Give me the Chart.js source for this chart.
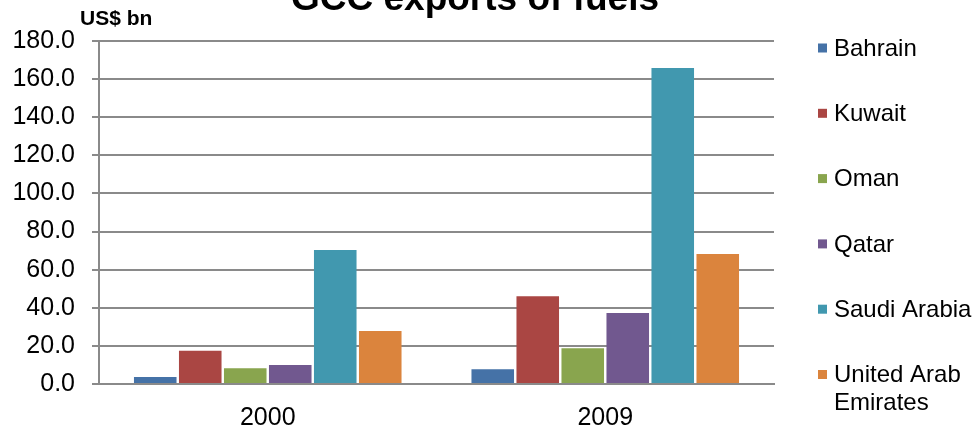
<!DOCTYPE html>
<html>
<head>
<meta charset="utf-8">
<script src="https://cdn.jsdelivr.net/npm/chart.js@4"></script>
<style>
  html, body { margin: 0; padding: 0; background: #fff; }
  #wrap { width: 975px; height: 429px; }
</style>
</head>
<body>
<div id="wrap"><canvas id="chart" width="975" height="429"></canvas></div>
<script>
// values, US$ bn
const years = ['2000', '2009'];
const countries = ['Bahrain', 'Kuwait', 'Oman', 'Qatar', 'Saudi Arabia', ['United Arab', 'Emirates']];
const bahrain = [3.7, 7.7];
const kuwait = [17.5, 46.0];
const oman = [8.2, 18.8];
const qatar = [10.0, 37.2];
const saudiArabia = [70.3, 165.8];
const uae = [27.8, 68.2];
const colors = ['#4572A7', '#AA4643', '#89A54E', '#71588F', '#4198AF', '#DB843D'];
const yTicks = [0, 20, 40, 60, 80, 100, 120, 140, 160, 180];

const series = [bahrain, kuwait, oman, qatar, saudiArabia, uae];
const FONT = '"Liberation Sans", Arial, sans-serif';

// title, unit label and the legend on the right
const extras = {
  id: 'extras',
  afterDraw(chart) {
    const ctx = chart.ctx;
    ctx.save();
    ctx.fillStyle = '#000';
    ctx.textAlign = 'center';
    ctx.textBaseline = 'alphabetic';
    ctx.font = 'bold 37px ' + FONT;
    ctx.fillText('GCC exports of fuels', 475, 10);

    ctx.textAlign = 'left';
    ctx.textBaseline = 'middle';
    ctx.font = 'bold 21px ' + FONT;
    ctx.fillText('US$ bn', 80, 19);

    ctx.font = '24px ' + FONT;
    chart.data.datasets.forEach((ds, i) => {
      const y = 48 + i * 65.3;
      ctx.fillStyle = ds.backgroundColor;
      ctx.fillRect(818, y - 4.5, 9, 9);
      ctx.fillStyle = '#000';
      const lines = Array.isArray(ds.label) ? ds.label : [ds.label];
      lines.forEach((t, j) => ctx.fillText(t, 834, y + 1 + j * 28));
    });
    ctx.restore();
  }
};

new Chart(document.getElementById('chart'), {
  type: 'bar',
  data: {
    labels: years,
    datasets: series.map((d, i) => ({
      label: countries[i],
      data: d,
      backgroundColor: colors[i],
      borderWidth: 0,
      barPercentage: 0.946,
      categoryPercentage: 0.8
    }))
  },
  options: {
    responsive: false,
    animation: false,
    layout: { padding: { top: 41, right: 201, left: 0, bottom: 0 } },
    plugins: {
      legend: { display: false },
      title: { display: false },
      tooltip: { enabled: false }
    },
    scales: {
      x: {
        grid: { display: false, drawTicks: false },
        border: { display: true, color: '#8a8a8a', width: 2 },
        ticks: { color: '#000', font: { family: FONT, size: 25 }, padding: 19 },
        afterFit(scale) { scale.height = 45; }
      },
      y: {
        min: 0,
        max: 180,
        afterBuildTicks(scale) { scale.ticks = yTicks.map(v => ({ value: v })); },
        grid: { color: '#8a8a8a', lineWidth: 2, tickLength: 7 },
        border: { display: true, color: '#8a8a8a', width: 2 },
        ticks: {
          color: '#000',
          font: { family: FONT, size: 25 },
          padding: 17,
          callback: v => v.toFixed(1)
        },
        afterFit(scale) { scale.width = 99; }
      }
    }
  },
  plugins: [extras]
});
</script>
</body>
</html>
